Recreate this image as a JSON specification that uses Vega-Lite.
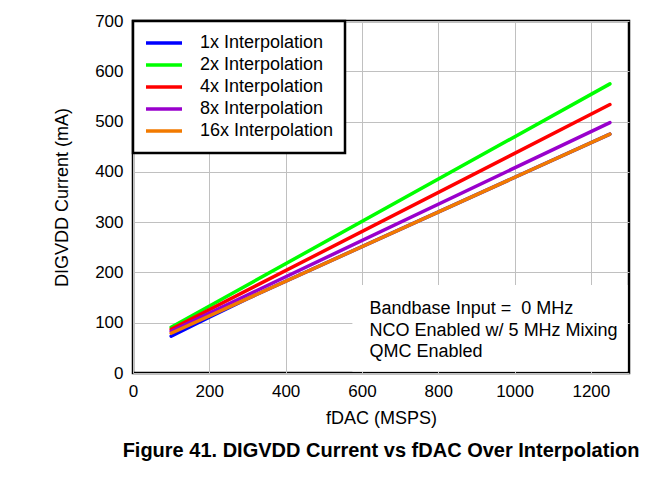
{
  "$schema": "https://vega.github.io/schema/vega-lite/v6.json",
  "width": 496,
  "height": 352,
  "autosize": {"type": "none"},
  "padding": {"left": 133, "top": 21, "right": 40, "bottom": 114},
  "background": "white",
  "title": {
    "text": "Figure 41. DIGVDD Current vs fDAC Over Interpolation",
    "orient": "bottom",
    "anchor": "middle",
    "font": "Liberation Sans",
    "fontSize": 20,
    "fontWeight": "bold",
    "color": "black",
    "offset": 14
  },
  "config": {
    "font": "Liberation Sans",
    "view": {"stroke": "black", "strokeWidth": 2.5},
    "axis": {
      "labelFont": "Liberation Sans",
      "labelFontSize": 17,
      "labelColor": "black",
      "titleFont": "Liberation Sans",
      "titleFontSize": 18,
      "titleFontWeight": "normal",
      "titleColor": "black",
      "gridColor": "#c0c0c0",
      "gridWidth": 1,
      "gridOpacity": 1,
      "domain": false,
      "ticks": false
    }
  },
  "datasets": {
    "lines": [
      {"fdac": 100, "current": 73, "series": "1x Interpolation"},
      {"fdac": 200, "current": 111, "series": "1x Interpolation"},
      {"fdac": 300, "current": 148, "series": "1x Interpolation"},
      {"fdac": 1250, "current": 475, "series": "1x Interpolation"},
      {"fdac": 100, "current": 91, "series": "2x Interpolation"},
      {"fdac": 1250, "current": 575, "series": "2x Interpolation"},
      {"fdac": 100, "current": 87, "series": "4x Interpolation"},
      {"fdac": 1250, "current": 534, "series": "4x Interpolation"},
      {"fdac": 100, "current": 83, "series": "8x Interpolation"},
      {"fdac": 1250, "current": 498, "series": "8x Interpolation"},
      {"fdac": 100, "current": 79, "series": "16x Interpolation"},
      {"fdac": 1250, "current": 475, "series": "16x Interpolation"}
    ],
    "box": [{"x1": 575, "x2": 1296, "y1": 3, "y2": 175}],
    "notes": [
      {"x": 620, "y": 127, "label": "Bandbase Input = \u00a00 MHz"},
      {"x": 620, "y": 84, "label": "NCO Enabled w/ 5 MHz Mixing"},
      {"x": 620, "y": 41, "label": "QMC Enabled"}
    ]
  },
  "encoding": {
    "x": {
      "field": "fdac", "type": "quantitative",
      "scale": {"domain": [0, 1300], "nice": false},
      "axis": {"values": [0, 200, 400, 600, 800, 1000, 1200], "format": "d", "title": "fDAC (MSPS)", "labelPadding": 10, "titlePadding": 10, "labelFlush": false}
    },
    "y": {
      "field": "current", "type": "quantitative",
      "scale": {"domain": [0, 700], "nice": false},
      "axis": {"values": [0, 100, 200, 300, 400, 500, 600, 700], "format": "d", "title": "DIGVDD Current (mA)", "labelPadding": 10, "titlePadding": 23, "labelFlush": false}
    }
  },
  "layer": [
    {
      "data": {"name": "box"},
      "mark": {"type": "rect", "fill": "white"},
      "encoding": {
        "x": {"field": "x1", "type": "quantitative"},
        "x2": {"field": "x2"},
        "y": {"field": "y1", "type": "quantitative"},
        "y2": {"field": "y2"}
      }
    },
    {
      "data": {"name": "lines"},
      "transform": [{"filter": "datum.series !== '16x Interpolation'"}],
      "mark": {"type": "line", "strokeWidth": 3.5, "strokeCap": "round", "strokeJoin": "round"},
      "encoding": {
        "color": {
          "field": "series", "type": "nominal",
          "scale": {
            "domain": ["1x Interpolation", "2x Interpolation", "4x Interpolation", "8x Interpolation", "16x Interpolation"],
            "range": ["#0000ff", "#00ff00", "#ff0000", "#9900cc", "#f27a00"]
          },
          "legend": {
            "title": null,
            "orient": "top-left",
            "offset": 0,
            "fillColor": "white",
            "strokeColor": "black",
            "padding": 11,
            "symbolType": "stroke",
            "symbolSize": 1296,
            "symbolStrokeWidth": 3.5,
            "labelFont": "Liberation Sans",
            "labelFontSize": 18,
            "labelColor": "black",
            "labelOffset": 16,
            "clipHeight": 22,
            "rowPadding": 0,
            "encode": {"legend": {"update": {"strokeWidth": {"value": 2.5}}}}
          }
        }
      }
    },
    {
      "data": {"name": "lines"},
      "transform": [{"filter": "datum.series === '16x Interpolation'"}],
      "mark": {"type": "line", "strokeWidth": 3.5, "strokeCap": "round"},
      "encoding": {
        "color": {"field": "series", "type": "nominal"}
      }
    },
    {
      "data": {"name": "notes"},
      "mark": {"type": "text", "align": "left", "baseline": "middle", "fontSize": 18, "font": "Liberation Sans", "color": "black"},
      "encoding": {
        "x": {"field": "x", "type": "quantitative"},
        "y": {"field": "y", "type": "quantitative"},
        "text": {"field": "label"}
      }
    }
  ]
}
